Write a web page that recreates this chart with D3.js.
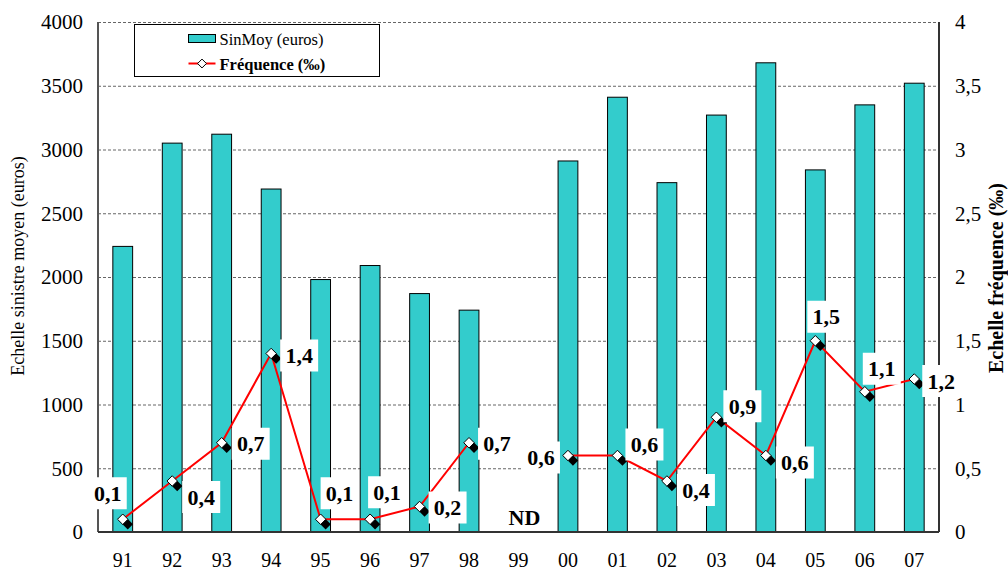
<!DOCTYPE html>
<html>
<head>
<meta charset="utf-8">
<script src="https://cdn.jsdelivr.net/npm/d3@7"></script>
<style>
  body { margin: 0; background: #fff; }
  text { font-family: "Liberation Serif", "Times New Roman", serif; }
</style>
</head>
<body>
<div id="chart"></div>
<script>
// data
var years = ["91","92","93","94","95","96","97","98","99","00","01","02","03","04","05","06","07"];
var sinMoy = [2240, 3050, 3120, 2690, 1980, 2090, 1870, 1740, null, 2910, 3410, 2740, 3270, 3680, 2840, 3350, 3520];
var freq = [0.1, 0.4, 0.7, 1.4, 0.1, 0.1, 0.2, 0.7, null, 0.6, 0.6, 0.4, 0.9, 0.6, 1.5, 1.1, 1.2];
var leftTicks = [0, 500, 1000, 1500, 2000, 2500, 3000, 3500, 4000];
var rightTicks = [0, 0.5, 1, 1.5, 2, 2.5, 3, 3.5, 4];

// where each value label sits relative to its point
var labelOffsets = [[-15,-26],[29,16],[29,1],[28,2],[19,-26],[17,-27],[28,1],[28,1],[0,0],
                    [-27,2],[27,-11],[29,9],[26,-11],[29,7],[11,-24],[17,-23],[27,2]];

var w = 1008, h = 570;
var pLeft = 98, pRight = 939, pTop = 22, pBottom = 532;
var fmt = function(v){ return String(v).replace(".", ","); };

var svg = d3.select("#chart").append("svg")
    .attr("width", w).attr("height", h);

var x = d3.scaleBand().domain(years).range([pLeft, pRight])
    .paddingInner(0.6).paddingOuter(0.3);
var yL = d3.scaleLinear().domain([0, 4000]).range([pBottom, pTop]);
var yR = d3.scaleLinear().domain([0, 4]).range([pBottom, pTop]);
var cx = function(d){ return x(d) + x.bandwidth() / 2; };

// gridlines
svg.append("g").selectAll("line")
    .data(leftTicks.filter(function(t){ return t > 0; }))
    .enter().append("line")
    .attr("x1", pLeft).attr("x2", pRight)
    .attr("y1", function(d){ return yL(d) + 0.5; })
    .attr("y2", function(d){ return yL(d) + 0.5; })
    .attr("stroke", "#666").attr("stroke-width", 1)
    .attr("stroke-dasharray", "3,2");

// bars
svg.append("g").selectAll("rect")
    .data(years.map(function(y, i){ return {year: y, v: sinMoy[i]}; })
               .filter(function(d){ return d.v != null; }))
    .enter().append("rect")
    .attr("x", function(d){ return x(d.year); })
    .attr("y", function(d){ return yL(d.v); })
    .attr("width", x.bandwidth())
    .attr("height", function(d){ return pBottom - yL(d.v); })
    .attr("fill", "#33CCCC")
    .attr("stroke", "#000").attr("stroke-width", 1);

// axes lines
svg.append("line").attr("x1", pLeft).attr("x2", pLeft).attr("y1", pTop).attr("y2", pBottom)
    .attr("stroke", "#555").attr("stroke-width", 2);
svg.append("line").attr("x1", pRight).attr("x2", pRight).attr("y1", pTop).attr("y2", pBottom)
    .attr("stroke", "#333").attr("stroke-width", 2);
svg.append("line").attr("x1", pLeft).attr("x2", pRight).attr("y1", pBottom).attr("y2", pBottom)
    .attr("stroke", "#333").attr("stroke-width", 2);

// tick labels
svg.append("g").selectAll("text").data(leftTicks).enter().append("text")
    .attr("x", 83).attr("y", function(d){ return yL(d); })
    .attr("dy", "0.35em").attr("text-anchor", "end")
    .attr("font-size", 21).text(function(d){ return d; });

svg.append("g").selectAll("text").data(rightTicks).enter().append("text")
    .attr("x", 955).attr("y", function(d){ return yR(d); })
    .attr("dy", "0.35em").attr("text-anchor", "start")
    .attr("font-size", 21).text(fmt);

svg.append("g").selectAll("text").data(years).enter().append("text")
    .attr("x", cx).attr("y", 567)
    .attr("text-anchor", "middle").attr("font-size", 20)
    .text(function(d){ return d; });

// axis titles
svg.append("text")
    .attr("transform", "translate(24,266) rotate(-90)")
    .attr("text-anchor", "middle").attr("font-size", 18)
    .text("Echelle sinistre moyen (euros)");
svg.append("text")
    .attr("transform", "translate(1003,278) rotate(-90)")
    .attr("text-anchor", "middle").attr("font-size", 20).attr("font-weight", "bold")
    .text("Echelle fréquence (‰)");

// frequency line, broken at missing year
var pts = years.map(function(y, i){ return {year: y, v: freq[i], i: i}; });
var line = d3.line()
    .defined(function(d){ return d.v != null; })
    .x(function(d){ return cx(d.year); })
    .y(function(d){ return yR(d.v); });
svg.append("path").datum(pts)
    .attr("d", line).attr("fill", "none")
    .attr("stroke", "#FF0000").attr("stroke-width", 2);

var diamond = d3.symbol().type(d3.symbolDiamond2).size(70);
var shown = pts.filter(function(d){ return d.v != null; });

// markers: shadow then white diamond
svg.append("g").selectAll("path").data(shown).enter().append("path")
    .attr("d", diamond)
    .attr("transform", function(d){ return "translate(" + (cx(d.year) + 5) + "," + (yR(d.v) + 5) + ")"; })
    .attr("fill", "#000");
svg.append("g").selectAll("path").data(shown).enter().append("path")
    .attr("d", diamond)
    .attr("transform", function(d){ return "translate(" + cx(d.year) + "," + yR(d.v) + ")"; })
    .attr("fill", "#fff").attr("stroke", "#000").attr("stroke-width", 1);

// value labels on white boxes
var labels = svg.append("g").selectAll("g").data(shown).enter().append("g")
    .attr("transform", function(d){
      var o = labelOffsets[d.i];
      return "translate(" + (cx(d.year) + o[0]) + "," + (yR(d.v) + o[1]) + ")";
    });
labels.append("rect")
    .attr("x", -19).attr("y", -16).attr("width", 38).attr("height", 32)
    .attr("fill", "#fff");
labels.append("text")
    .attr("text-anchor", "middle").attr("dy", "0.35em")
    .attr("font-size", 22).attr("font-weight", "bold")
    .text(function(d){ return fmt(d.v); });

// ND marker for the missing year
svg.append("text")
    .attr("x", cx("99") + 6).attr("y", 517).attr("dy", "0.35em")
    .attr("text-anchor", "middle").attr("font-size", 22).attr("font-weight", "bold")
    .text("ND");

// legend
var lg = svg.append("g").attr("transform", "translate(134.5,24.5)");
lg.append("rect").attr("width", 245).attr("height", 52)
    .attr("fill", "#fff").attr("stroke", "#000").attr("stroke-width", 1);
lg.append("rect").attr("x", 54).attr("y", 10).attr("width", 27).attr("height", 8)
    .attr("fill", "#33CCCC").attr("stroke", "#000");
lg.append("text").attr("x", 85).attr("y", 15).attr("dy", "0.35em")
    .attr("font-size", 16.5).text("SinMoy (euros)");
lg.append("line").attr("x1", 54).attr("x2", 81).attr("y1", 39).attr("y2", 39)
    .attr("stroke", "#FF0000").attr("stroke-width", 2);
lg.append("path").attr("d", d3.symbol().type(d3.symbolDiamond2).size(50))
    .attr("transform", "translate(67.5,39)")
    .attr("fill", "#fff").attr("stroke", "#000");
lg.append("text").attr("x", 85).attr("y", 40).attr("dy", "0.35em")
    .attr("font-size", 16.5).attr("font-weight", "bold").text("Fréquence (‰)");
</script>
</body>
</html>
